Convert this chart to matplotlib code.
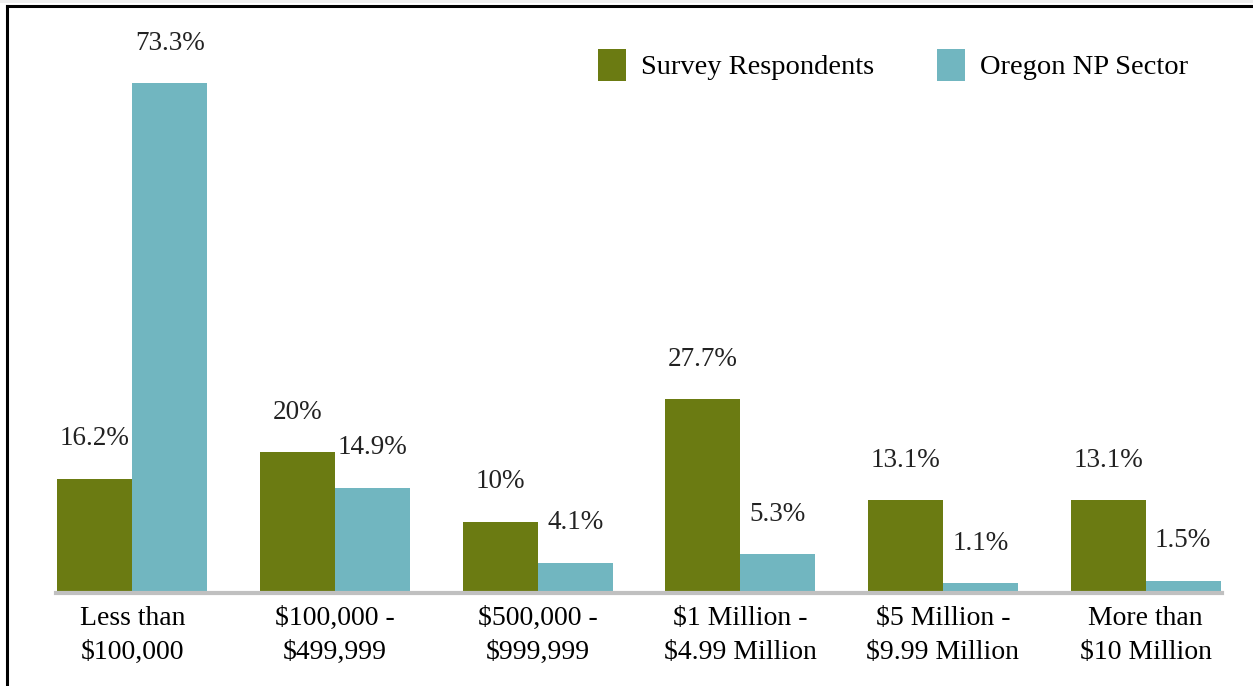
import matplotlib.pyplot as plt
import numpy as np
from matplotlib.lines import Line2D
from matplotlib.patches import Rectangle

# Datos
categorias = ['Less than\n$100,000', '$100,000 -\n$499,999', '$500,000 -\n$999,999',
              '$1 Million -\n$4.99 Million', '$5 Million -\n$9.99 Million', 'More than\n$10 Million']
encuesta = [16.2, 20, 10, 27.7, 13.1, 13.1]
sector = [73.3, 14.9, 4.1, 5.3, 1.1, 1.5]
etiquetas_encuesta = ['16.2%', '20%', '10%', '27.7%', '13.1%', '13.1%']
etiquetas_sector = ['73.3%', '14.9%', '4.1%', '5.3%', '1.1%', '1.5%']

verde = '#6B7B12'
azul = '#71B6C0'

plt.rcParams['font.family'] = ['Liberation Serif', 'DejaVu Serif']

W, H = 1253, 686
fig = plt.figure(figsize=(W / 100, H / 100), dpi=100)
ax = fig.add_axes([56 / W, 1 - 591 / H, (1222 - 56) / W, (591 - 36.6) / H])

x = np.arange(len(categorias))
ancho = 0.37
b1 = ax.bar(x - ancho / 2, encuesta, ancho, color=verde, label='Survey Respondents')
b2 = ax.bar(x + ancho / 2, sector, ancho, color=azul, label='Oregon NP Sector')

for barras, textos in [(b1, etiquetas_encuesta), (b2, etiquetas_sector)]:
    for b, t in zip(barras, textos):
        ax.annotate(t, (b.get_x() + b.get_width() / 2, b.get_height()),
                    xytext=(0, 28.8), textcoords='offset points',
                    ha='center', va='center', fontsize=19.5, color='#222222')

ax.set_xlim(-0.377, len(categorias) - 1 + 0.377)
ax.set_ylim(0, 80)
ax.set_yticks([])
for s in ['top', 'right', 'left', 'bottom']:
    ax.spines[s].set_visible(False)
ax.axhline(-0.3, color='#C0C0C0', lw=3, zorder=5, clip_on=False)
ax.set_xticks(x)
ax.set_xticklabels(categorias, fontsize=20, linespacing=1.45)
ax.tick_params(axis='x', length=0, pad=11)

fig.legend(loc='center right', bbox_to_anchor=(1188 / W, 1 - 65 / H), ncol=2,
           frameon=False, fontsize=20.5, handlelength=1.0, handleheight=1.4,
           handletextpad=0.52, columnspacing=2.2, borderpad=0, borderaxespad=0)

# Marco
fig.add_artist(Rectangle((0, 1 - 3 / H), 1, 3 / H, transform=fig.transFigure,
                         color='#EEEEEE', lw=0))
fig.add_artist(Line2D([7 / W, 1], [1 - 5.5 / H, 1 - 5.5 / H], transform=fig.transFigure,
                      color='black', lw=2.2))
fig.add_artist(Line2D([7 / W, 7 / W], [0, 1 - 5.5 / H], transform=fig.transFigure,
                      color='black', lw=2.2))

fig.savefig('out.png', dpi=100)
